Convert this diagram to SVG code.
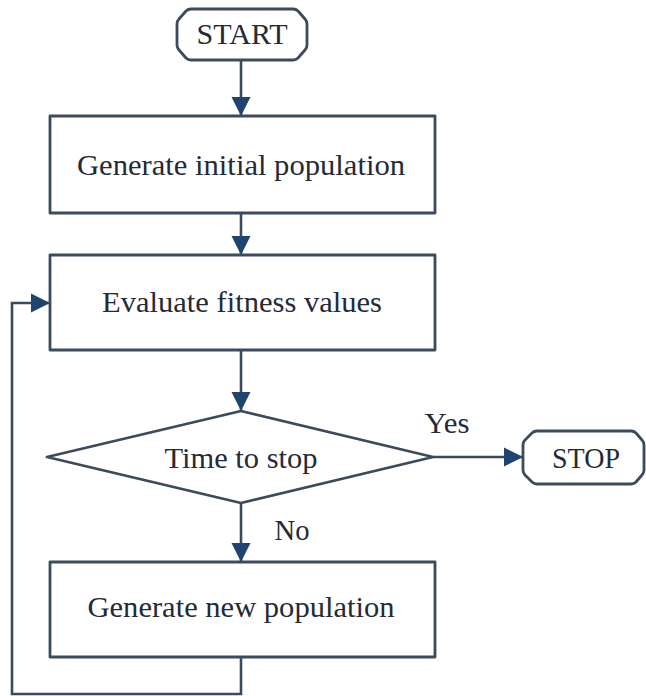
<svg xmlns="http://www.w3.org/2000/svg" width="646" height="696" viewBox="0 0 646 696">
<defs>
<style>
.shape{fill:#ffffff;stroke:#3c4a5e;stroke-width:2.8;stroke-linejoin:round}
.line{fill:none;stroke:#3c4a5e;stroke-width:2.6}
.t{font-family:"Liberation Serif","Times New Roman",serif;font-size:29px;fill:#252a35;text-anchor:middle}
</style>
<marker id="ah" viewBox="0 0 10 10" refX="10" refY="5" markerWidth="7.5" markerHeight="7.5" markerUnits="strokeWidth" orient="auto">
<path d="M0,0 L10,5 L0,10 z" fill="#1f4470"/>
</marker>
</defs>
<rect width="646" height="696" fill="#ffffff"/>
<g id="connectors">
<line class="line" x1="241" y1="60" x2="241" y2="116" marker-end="url(#ah)"/>
<line class="line" x1="241" y1="213" x2="241" y2="255" marker-end="url(#ah)"/>
<line class="line" x1="241" y1="350" x2="241" y2="411" marker-end="url(#ah)"/>
<line class="line" x1="433" y1="457" x2="523" y2="457" marker-end="url(#ah)"/>
<line class="line" x1="241" y1="503" x2="241" y2="562" marker-end="url(#ah)"/>
<polyline class="line" points="241,657 241,694 12,694 12,303 50,303" marker-end="url(#ah)"/>
<text class="t" x="447" y="433" textLength="45" lengthAdjust="spacingAndGlyphs">Yes</text>
<text class="t" x="292" y="540" textLength="35" lengthAdjust="spacingAndGlyphs">No</text>
</g>
<g id="start">
<path class="shape" d="M191,9 L293,9 Q296,9 298,11 L305,19 Q307,21 307,24 L307,45 Q307,48 305,50 L298,58 Q296,60 293,60 L191,60 Q188,60 186,58 L179,50 Q177,48 177,45 L177,24 Q177,21 179,19 L186,11 Q188,9 191,9 Z"/>
<text class="t" x="242" y="44" textLength="91" lengthAdjust="spacingAndGlyphs">START</text>
</g>
<g id="init">
<rect class="shape" x="50" y="116" width="385" height="97"/>
<text class="t" x="241" y="175" textLength="328" lengthAdjust="spacingAndGlyphs">Generate initial population</text>
</g>
<g id="evaluate">
<rect class="shape" x="50" y="255" width="385" height="95"/>
<text class="t" x="242" y="312" textLength="280" lengthAdjust="spacingAndGlyphs">Evaluate fitness values</text>
</g>
<g id="decision">
<polygon class="shape" points="241,411 433,457 241,503 47,457"/>
<text class="t" x="241" y="468" textLength="153" lengthAdjust="spacingAndGlyphs">Time to stop</text>
</g>
<g id="stop">
<path class="shape" d="M537,431 L631,431 Q634,431 636,433 L642,440 Q644,442 644,445 L644,470 Q644,473 642,475 L636,482 Q634,484 631,484 L537,484 Q534,484 532,482 L525,475 Q523,473 523,470 L523,445 Q523,442 525,440 L532,433 Q534,431 537,431 Z"/>
<text class="t" x="586" y="468" textLength="68" lengthAdjust="spacingAndGlyphs">STOP</text>
</g>
<g id="newpop">
<rect class="shape" x="50" y="562" width="385" height="95"/>
<text class="t" x="241" y="617" textLength="307" lengthAdjust="spacingAndGlyphs">Generate new population</text>
</g>
</svg>
